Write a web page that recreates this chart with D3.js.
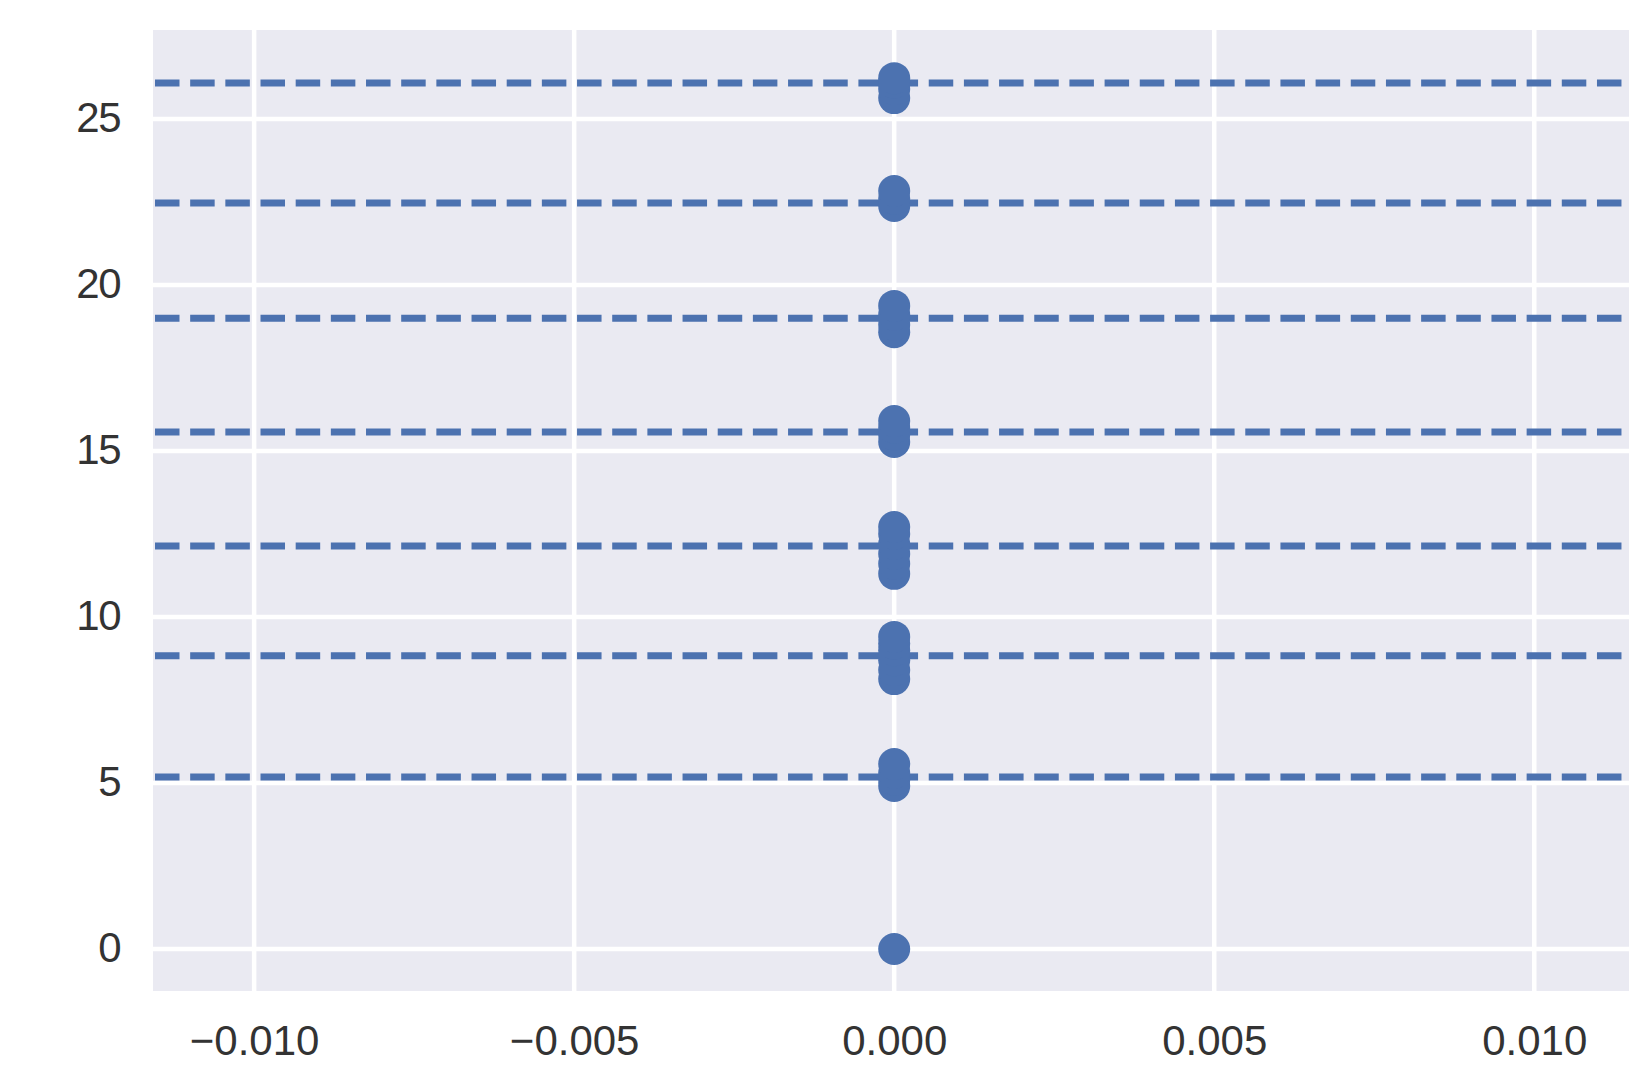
<!DOCTYPE html>
<html>
<head>
<meta charset="utf-8">
<script src="https://cdn.jsdelivr.net/npm/d3@7"></script>
<style>
  html, body { margin: 0; padding: 0; background: #ffffff; }
  svg { display: block; }
  text { font-family: "Liberation Sans", Arial, sans-serif; }
</style>
</head>
<body>
<svg id="chart" width="1640" height="1065"></svg>
<script>
// ---- data ----
const pointY = [
  0,
  4.91, 5.10, 5.30, 5.57,
  8.13, 8.40, 8.70, 9.00, 9.20, 9.40,
  11.30, 11.60, 11.90, 12.20, 12.50, 12.71,
  15.27, 15.50, 15.70, 15.90,
  18.58, 18.80, 19.10, 19.37,
  22.38, 22.60, 22.83,
  25.63, 25.90, 26.10, 26.23
];
const pointX = pointY.map(() => 0);
const lineLevels = [5.18, 8.83, 12.14, 15.57, 19.0, 22.47, 26.08];
const xTicks = [-0.010, -0.005, 0.000, 0.005, 0.010];
const yTicks = [0, 5, 10, 15, 20, 25];
const xDomain = [-0.01158, 0.01148];
const yDomain = [-1.265, 27.68];

// ---- layout ----
const svg = d3.select("#chart");
const mLeft = 153, mRight = 1629, mTop = 30, mBottom = 991;
const x = d3.scaleLinear().domain(xDomain).range([mLeft, mRight]);
const y = d3.scaleLinear().domain(yDomain).range([mBottom, mTop]);
const blue = "#4C72B0";
const textColor = "#333333";

svg.append("rect").attr("width", 1640).attr("height", 1065).attr("fill", "#ffffff");
svg.append("rect")
  .attr("x", mLeft).attr("y", mTop)
  .attr("width", mRight - mLeft).attr("height", mBottom - mTop)
  .attr("fill", "#EAEAF2");

// grid
const grid = svg.append("g");
grid.selectAll("line.vx").data(xTicks).join("line")
  .attr("x1", d => x(d)).attr("x2", d => x(d))
  .attr("y1", mTop).attr("y2", mBottom)
  .attr("stroke", "#ffffff").attr("stroke-width", 4.5);
grid.selectAll("line.hy").data(yTicks).join("line")
  .attr("x1", mLeft).attr("x2", mRight)
  .attr("y1", d => y(d)).attr("y2", d => y(d))
  .attr("stroke", "#ffffff").attr("stroke-width", 4.5);

// axes (tick labels only)
const xAxis = d3.axisBottom(x).tickValues(xTicks)
  .tickFormat(d => d3.format(".3f")(d).replace("-", "\u2212"))
  .tickSize(0).tickPadding(0);
const gx = svg.append("g").attr("transform", `translate(0,${mBottom})`).call(xAxis);
gx.select(".domain").remove();
gx.selectAll("text")
  .attr("y", 64).attr("dy", 0)
  .attr("font-size", 42).attr("fill", textColor)
  .style("font-family", '"Liberation Sans", Arial, sans-serif');

const yAxis = d3.axisLeft(y).tickValues(yTicks).tickFormat(d3.format("d"))
  .tickSize(0).tickPadding(0);
const gy = svg.append("g").attr("transform", `translate(${mLeft},0)`).call(yAxis);
gy.select(".domain").remove();
gy.selectAll("text")
  .attr("x", -33).attr("dy", "0.3em")
  .attr("font-size", 42).attr("fill", textColor)
  .attr("letter-spacing", -1.5)
  .style("font-family", '"Liberation Sans", Arial, sans-serif');

// dashed horizontal lines
svg.append("g").selectAll("line").data(lineLevels).join("line")
  .attr("x1", mLeft + 2).attr("x2", mRight)
  .attr("y1", d => y(d)).attr("y2", d => y(d))
  .attr("stroke", blue).attr("stroke-width", 7)
  .attr("stroke-dasharray", "24.5 10.67");

// points
svg.append("g").selectAll("circle").data(pointY).join("circle")
  .attr("cx", (d, i) => x(pointX[i]))
  .attr("cy", d => y(d))
  .attr("r", 16)
  .attr("fill", blue);
</script>
</body>
</html>
